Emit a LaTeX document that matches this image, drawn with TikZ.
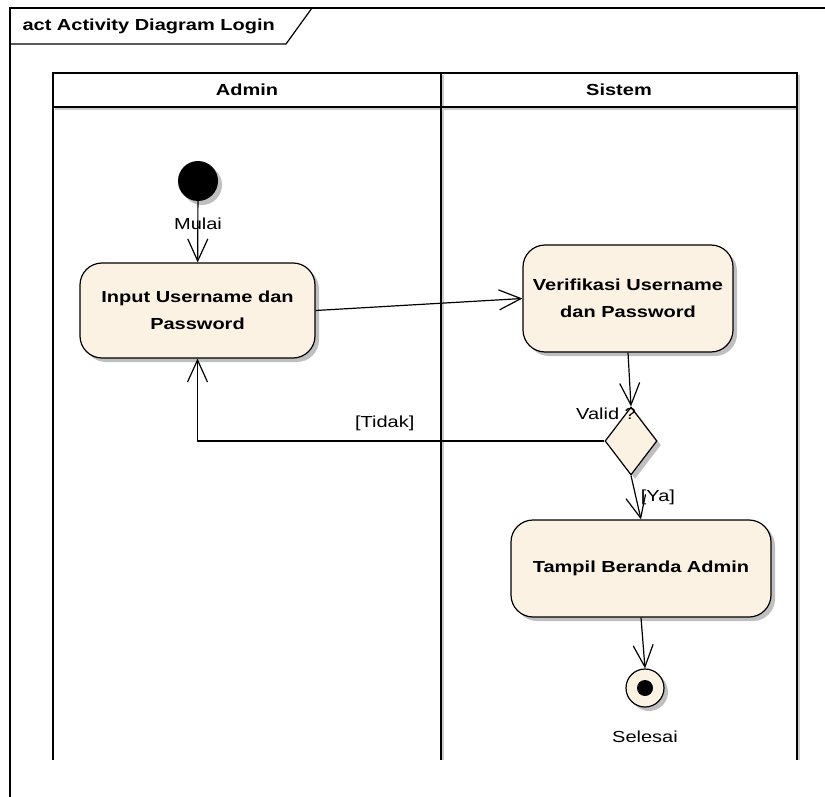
\documentclass[tikz,border=0pt]{standalone}
\usepackage{fontspec}
\setmainfont[FakeStretch=1.25]{Liberation Sans}
\usetikzlibrary{arrows.meta,shapes.geometric,shadows}
\definecolor{actfill}{HTML}{FCF2E4}
\newcommand\diafont{\fontsize{16}{27}\selectfont}
\tikzset{
  shade/.style={drop shadow={shadow xshift=4pt,shadow yshift=-4pt,fill=black!25,opacity=1}},
  act/.style={draw, rounded corners=22pt, fill=actfill, line width=1.2pt, align=center, font=\diafont\bfseries, shade},
  hdr/.style={font=\diafont\bfseries},
  lbl/.style={inner sep=1pt},
  flow/.style={-{Straight Barb[length=22pt,width=20pt]}, line width=1.2pt}
}
\begin{document}
\begin{tikzpicture}[x=1pt,y=-1pt,font=\diafont]
\useasboundingbox (0,0) rectangle (825,797);
% frame and tab
\draw[line width=1.2pt] (10,810) -- (10,8) -- (840,8);
\draw[line width=1.2pt] (10,44) -- (286,44) -- (312,8);
\node (title) [anchor=west, hdr] at (19,26) {act Activity Diagram Login};
% swimlanes
\draw[black!20, line width=1.2pt] (55,109) -- (799,109) (443,75) -- (443,760) (799,75) -- (799,760);
\draw[line width=1.2pt] (53,760) -- (53,73) -- (797,73) -- (797,760);
\draw[line width=1.2pt] (53,107) -- (797,107);
\draw[line width=1.2pt] (441,73) -- (441,760);
\node (admin) [hdr] at (247,90) {Admin};
\node (sistem) [hdr] at (619,90) {Sistem};

\node (start) [circle, fill=black, minimum size=40pt, inner sep=0, shade] at (198,181) {};
\node (mulai) [lbl] at (198,224) {Mulai};
\node (act1) [act, minimum width=235pt, minimum height=95pt] at (197.5,310.5) {Input Username dan\\Password};
\node (act2) [act, minimum width=210pt, minimum height=107pt] at (628,298.5) {Verifikasi Username\\dan Password};
\node (valid) [diamond, draw, fill=actfill, line width=1.2pt, minimum width=52pt, minimum height=68pt, inner sep=0, shade] at (631,441) {};
\node (validl) [lbl] at (606,414) {Valid ?};
\node (act3) [act, minimum width=260pt, minimum height=97pt] at (641,568.5) {Tampil Beranda Admin};
\node (final) [circle, draw, fill=actfill, line width=1.2pt, minimum size=38pt, inner sep=0, shade] at (645,688) {};
\fill (final.center) circle (8pt);
\node (selesai) [lbl] at (645,737) {Selesai};

\draw[flow] (start) -- (act1);
\draw[flow] (act1.east) -- (act2.west);
\draw[flow] (act2.south) -- (valid.north);
\draw[flow] (valid.west) -| node [pos=0.27, above=6pt] {[Tidak]} (act1.south);
\draw[flow] (valid.south) -- node [right=1pt] {[Ya]} (act3.north);
\draw[flow] (act3.south) -- (final.north);
\end{tikzpicture}
\end{document}
